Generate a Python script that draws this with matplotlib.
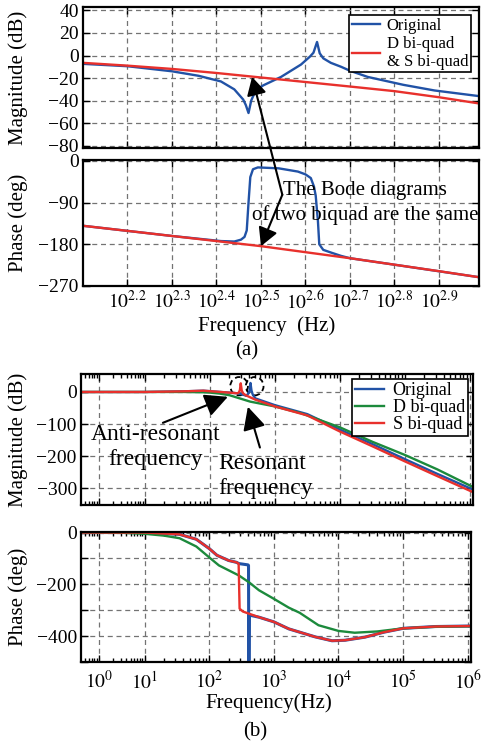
"""Bode plots: original plant vs. D / S bi-quad fits."""
import numpy as np
import matplotlib
matplotlib.use('Agg')
import matplotlib.pyplot as plt
from matplotlib.patches import Ellipse
from matplotlib.ticker import (FixedLocator, FuncFormatter, LogLocator,
                               MultipleLocator, NullFormatter, NullLocator)

plt.rcParams['font.family'] = 'serif'
plt.rcParams['font.serif'] = ['Liberation Serif', 'DejaVu Serif']
plt.rcParams['mathtext.fontset'] = 'stix'

# ---- (a) data, frequency as log10(Hz)
a_lf_orig = [2.10, 2.20, 2.30, 2.36, 2.41, 2.44, 2.46, 2.466, 2.472, 2.478, 2.488,
             2.505, 2.545, 2.59, 2.61, 2.618, 2.626, 2.632, 2.64, 2.657, 2.68, 2.70,
             2.74, 2.82, 2.89, 2.99]
a_mag_orig = [-7.4, -9.5, -14, -18, -23, -30, -39, -44, -51, -40, -31,
              -26.5, -19, -8, -1, 2.5, 12, 2, -2.5, -6.5, -10, -13.5,
              -19, -26, -31, -36]
a_lf_orig_ph = [2.10, 2.30, 2.41, 2.44, 2.455, 2.463, 2.468, 2.472, 2.476, 2.482,
                2.493, 2.54, 2.583, 2.60, 2.612, 2.619, 2.623, 2.628, 2.631, 2.64,
                2.658, 2.68, 2.70, 2.80, 2.99]
a_ph_orig = [-140, -162, -173, -174, -170, -164, -150, -90, -35, -18,
             -14, -16, -23, -29, -37, -55, -75, -130, -180, -192,
             -198, -205, -210, -224, -251]
a_lf_bq = [2.10, 2.20, 2.30, 2.40, 2.50, 2.60, 2.70, 2.80, 2.90, 2.99]
a_mag_bq = [-6.5, -9, -11.9, -15.5, -19.5, -23.5, -27.5, -31.6, -37, -42.5]
a_ph_bq = [-140, -151, -162, -173, -184, -197, -210, -224, -238, -251]
a_xticks = [2.2, 2.3, 2.4, 2.5, 2.6, 2.7, 2.8, 2.9]

# ---- (b) data
b_lf_orig = [-0.4, 1.0, 1.6, 1.9, 2.1, 2.3, 2.42, 2.47, 2.52, 2.56, 2.6, 2.612, 2.625,
             2.64, 2.66, 2.7, 3.0, 3.5, 4.0, 4.5, 5.0, 5.5, 6.05]
b_mag_orig = [0, 0, 2, 4, 1, -2, -4, -6, -9, -12, -3, 6, 28,
              5, -8, -20, -41, -69, -117, -162, -209, -255, -304]
b_lf_d = [-0.4, 1.0, 1.6, 1.9, 2.0, 2.15, 2.3, 2.62, 3.0, 3.4, 4.0, 4.5, 5.0, 5.5, 6.05]
b_mag_d = [0, 0, 0, -1, -2, -5, -10, -30, -45, -66, -110, -155, -196, -241, -296]
b_lf_s = [-0.4, 1.0, 1.6, 1.9, 2.1, 2.3, 2.42, 2.445, 2.462, 2.475, 2.49, 2.51,
          2.55, 2.7, 3.0, 3.5, 4.0, 4.5, 5.0, 5.5, 6.05]
b_mag_s = [0, 0, 2, 4, 1, -2, -4, -2, 6, 27, 5, -4,
           -10, -24, -45, -73, -123, -169, -216, -262, -312]
b_decades = [0, 1, 2, 3, 4, 5, 6]

b_lf_ph_orig = [-0.4, 1.0, 1.54, 1.8, 2.0, 2.12, 2.3, 2.42, 2.46, 2.6, 2.608, 2.612,
                2.616, 2.62, 2.64, 2.77, 3.0, 3.23, 3.64, 3.9, 4.1, 4.41, 4.7, 5.0,
                5.5, 6.05]
b_ph_orig = [0, 0, -7, -26, -62, -88, -108, -115, -120, -125, -127, -495,
             -495, -318, -320, -327, -345, -372, -403, -418, -416, -404, -385, -370,
             -363, -361]
b_lf_ph_d = [-0.4, 0.5, 1.0, 1.3, 1.54, 1.8, 2.0, 2.15, 2.46, 2.62, 2.77, 3.0,
             3.23, 3.4, 3.69, 4.0, 4.25, 4.6, 5.0, 5.5, 6.05]
b_ph_d = [0, -1, -5, -12, -22, -54, -96, -127, -166, -193, -223, -256,
          -290, -310, -358, -380, -387, -382, -370, -364, -362]
b_lf_ph_s = [-0.4, 1.0, 1.54, 1.8, 2.0, 2.12, 2.3, 2.42, 2.455, 2.462, 2.47, 2.52,
             2.77, 3.0, 3.23, 3.64, 3.9, 4.1, 4.41, 4.7, 5.0, 5.5, 6.05]
b_ph_s = [0, 0, -7, -26, -62, -88, -108, -115, -120, -200, -294, -305,
          -327, -345, -372, -403, -418, -416, -404, -385, -370, -363, -361]

BLUE = '#2152a6'
RED = '#e8302c'
GREEN = '#1c8a3c'
W, H = 486, 746


def hz(lf):
    return 10 ** np.asarray(lf, dtype=float)


def px_axes(fig, l, t, r, b):
    return fig.add_axes([l / W, 1 - b / H, (r - l) / W, (b - t) / H])


def style(ax):
    for s in ax.spines.values():
        s.set_linewidth(1.6)
    ax.grid(True, which='major', ls=(0, (4, 3)), color='0.45', lw=0.9)
    ax.tick_params(which='both', direction='in', top=True, right=True,
                   labelsize=14, width=1)
    ax.tick_params(which='major', length=5, pad=3)
    ax.tick_params(which='minor', length=3)


# the first decade of the (b) axis is drawn narrower than the others
K = 46 / 65


def fwd(x):
    lx = np.log10(np.maximum(x, 1e-12))
    return np.where(lx < 1, 1 - (1 - lx) * K, lx)


def inv(p):
    p = np.asarray(p, dtype=float)
    return np.where(p < 1, 10 ** (1 - (1 - p) / K), 10 ** p)


fig = plt.figure(figsize=(W / 100, H / 100), dpi=100)

# ================= (a) =================
ax1 = px_axes(fig, 83, 7, 479, 148)
ax2 = px_axes(fig, 83, 160, 479, 286)

ax1.plot(hz(a_lf_orig), a_mag_orig, color=BLUE, lw=1.7, label='Original')
ax1.plot(hz(a_lf_bq), a_mag_bq, color=RED, lw=1.7, label='D bi-quad\n& S bi-quad')
ax2.plot(hz(a_lf_orig_ph), a_ph_orig, color=BLUE, lw=1.7)
ax2.plot(hz(a_lf_bq), a_ph_bq, color=RED, lw=1.7)

for ax in (ax1, ax2):
    ax.set_xscale('log')
    ax.set_xlim(10 ** 2.1, 10 ** 2.99)
    ax.xaxis.set_major_locator(FixedLocator(hz(a_xticks)))
    ax.xaxis.set_minor_locator(NullLocator())
    style(ax)
ax1.xaxis.set_major_formatter(NullFormatter())
ax2.xaxis.set_major_formatter(FuncFormatter(lambda v, p: r'$10^{%.1f}$' % np.log10(v)))
ax2.tick_params(axis='x', pad=3)

ax1.set_ylim(-82, 43)
ax1.set_yticks([40, 20, 0, -20, -40, -60, -80])
ax2.set_ylim(-270, 2)
ax2.set_yticks([0, -90, -180, -270])
ax1.set_ylabel('Magnitude (dB)', fontsize=15)
ax2.set_ylabel('Phase (deg)', fontsize=15)
ax1.yaxis.set_label_coords(-0.139, 0.5)
ax2.yaxis.set_label_coords(-0.139, 0.5)

leg = ax1.legend(loc='upper right', fontsize=12, fancybox=False, edgecolor='k',
                 framealpha=1, borderpad=0.15, handlelength=1.7, handletextpad=0.4,
                 labelspacing=0.1, borderaxespad=0.5)
leg.get_frame().set_linewidth(1.2)

arrow_a = dict(arrowstyle='-|>,head_length=0.55,head_width=0.3', mutation_scale=20,
               color='k', lw=1.5, shrinkA=0, shrinkB=0)
ax2.annotate('', xy=(10 ** 2.48, -19), xycoords=ax1.transData,
             xytext=(10 ** 2.548, -73), textcoords=ax2.transData,
             arrowprops=arrow_a, annotation_clip=False)
ax2.annotate('', xy=(10 ** 2.5, -184), xytext=(10 ** 2.548, -73),
             arrowprops=arrow_a, annotation_clip=False)
fig.text(365 / W, 1 - 203 / H, 'The Bode diagrams\nof two biquad are the same',
         ha='center', va='center', fontsize=15, linespacing=1.3)

fig.text(267 / W, 1 - 326 / H, 'Frequency  (Hz)', ha='center', va='center', fontsize=15)
fig.text(247 / W, 1 - 351 / H, '(a)', ha='center', va='center', fontsize=15)

# ================= (b) =================
ax3 = px_axes(fig, 81, 374, 473, 505)
ax4 = px_axes(fig, 81, 532, 471, 662)

ax3.plot(hz(b_lf_orig), b_mag_orig, color=BLUE, lw=1.7, label='Original')
ax3.plot(hz(b_lf_d), b_mag_d, color=GREEN, lw=1.7, label='D bi-quad')
ax3.plot(hz(b_lf_s), b_mag_s, color=RED, lw=1.7, label='S bi-quad')
ax4.plot(hz(b_lf_ph_orig), b_ph_orig, color=BLUE, lw=2.2)
ax4.plot(hz(b_lf_ph_d), b_ph_d, color=GREEN, lw=1.7)
ax4.plot(hz(b_lf_ph_s), b_ph_s, color=RED, lw=1.7)

for ax in (ax3, ax4):
    ax.set_xscale('function', functions=(fwd, inv))
    ax.set_xlim(10 ** -0.39, 10 ** 6.05)
    ax.xaxis.set_major_locator(FixedLocator(hz(b_decades)))
    ax.xaxis.set_minor_locator(LogLocator(base=10, subs=np.arange(2, 10), numticks=200))
    ax.xaxis.set_minor_formatter(NullFormatter())
    style(ax)
ax3.xaxis.set_major_formatter(NullFormatter())
ax4.xaxis.set_major_formatter(FuncFormatter(lambda v, p: r'$10^{%d}$' % round(np.log10(v))))
ax4.tick_params(axis='x', pad=6)

ax3.set_ylim(-352, 56)
ax3.set_yticks([0, -100, -200, -300])
ax4.set_ylim(-500, 2)
ax4.yaxis.set_major_locator(MultipleLocator(100))
ax4.yaxis.set_major_formatter(
    FuncFormatter(lambda v, p: ('%d' % v).replace('-', '\u2212') if round(v) % 200 == 0 else ''))
ax3.set_ylabel('Magnitude (dB)', fontsize=15)
ax4.set_ylabel('Phase (deg)', fontsize=15)
ax3.yaxis.set_label_coords(-0.135, 0.5)
ax4.yaxis.set_label_coords(-0.135, 0.5)

leg = ax3.legend(loc='upper right', fontsize=13, fancybox=False, edgecolor='k',
                 framealpha=1, borderpad=0.15, handlelength=1.6, handletextpad=0.5,
                 labelspacing=0.0, borderaxespad=0.3)
leg.get_frame().set_linewidth(1.2)

# dashed circles round the two peaks
for lf in (2.45, 2.69):
    cx, cy = ax3.transAxes.inverted().transform(ax3.transData.transform((10 ** lf, 18)))
    ax3.add_patch(Ellipse((cx, cy), 0.045, 0.14, transform=ax3.transAxes, fill=False,
                          ls=(0, (3, 2)), lw=1.3, color='k', clip_on=False))

arrow_b = dict(arrowstyle='-|>,head_length=0.7,head_width=0.35', mutation_scale=20,
               color='k', lw=1.5, shrinkA=0, shrinkB=0)
ax3.annotate('', xy=(10 ** 2.277, -15), xytext=(10 ** 1.277, -96), arrowprops=arrow_b)
ax3.annotate('', xy=(10 ** 2.585, -46), xytext=(10 ** 2.77, -173), arrowprops=arrow_b)
fig.text(156 / W, 1 - 447 / H, 'Anti-resonant\nfrequency', ha='center', va='center',
         fontsize=17, linespacing=1.3)
fig.text(218 / W, 1 - 476 / H, 'Resonant\nfrequency', ha='left', va='center',
         fontsize=17, linespacing=1.3)

fig.text(269 / W, 1 - 703 / H, 'Frequency(Hz)', ha='center', va='center', fontsize=15)
fig.text(255 / W, 1 - 732 / H, '(b)', ha='center', va='center', fontsize=15)

fig.savefig('out.png', dpi=100)
